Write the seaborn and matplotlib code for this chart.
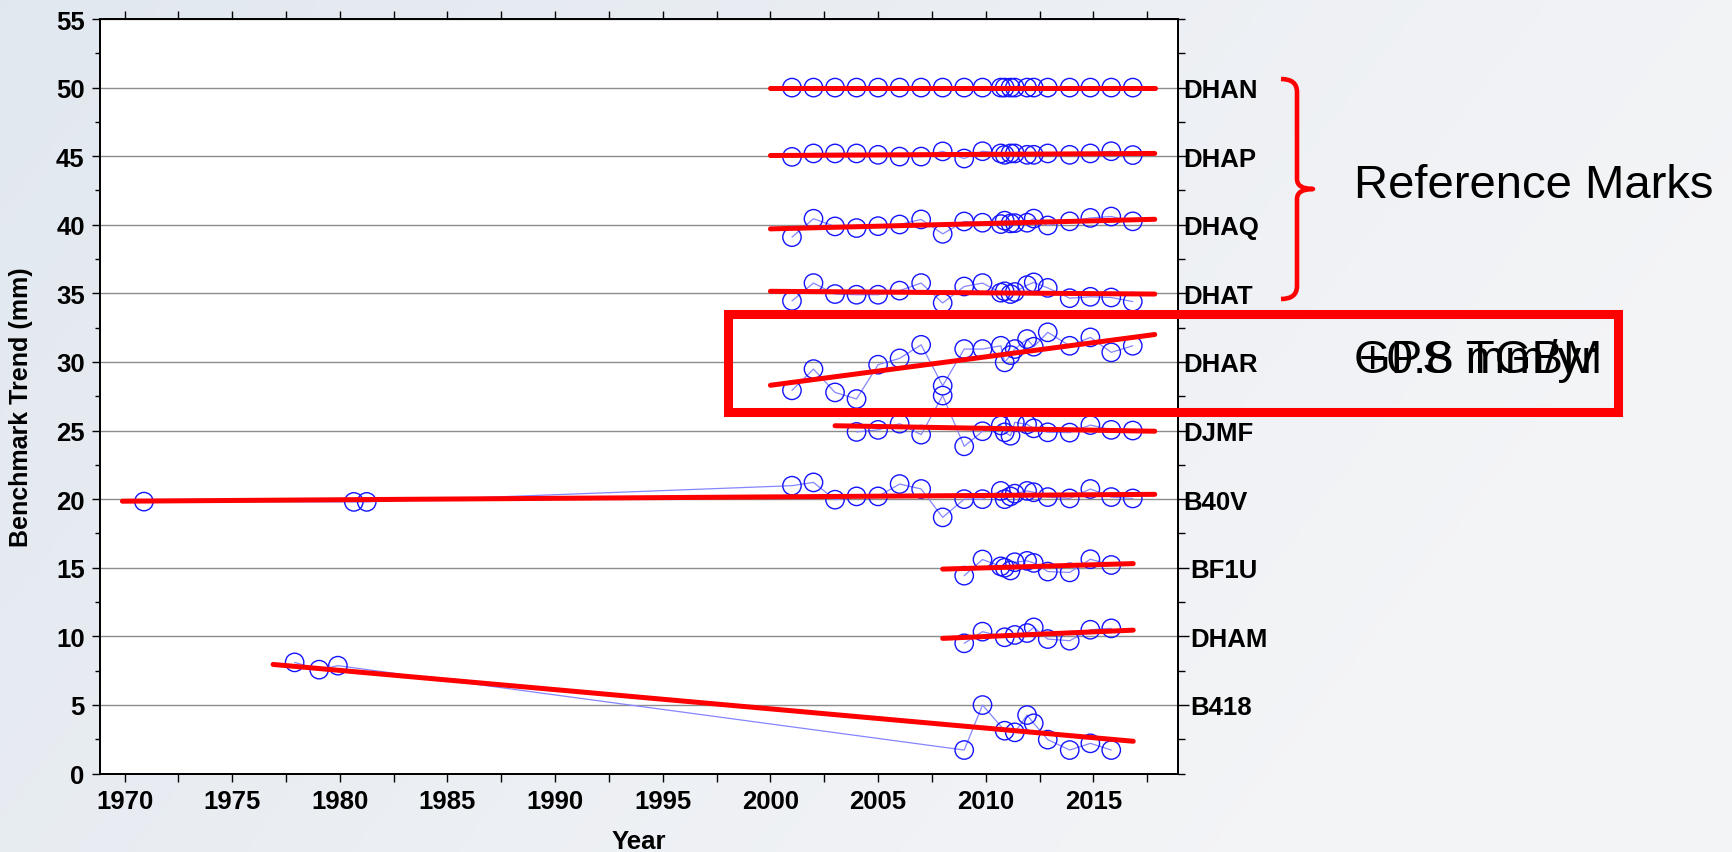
import numpy as np
import pandas as pd
import matplotlib
matplotlib.use("Agg")
import matplotlib.pyplot as plt
import matplotlib.transforms as mtransforms
from matplotlib.patches import Rectangle, PathPatch
from matplotlib.path import Path
from matplotlib.ticker import MultipleLocator
import seaborn as sns

# ---------------------------------------------------------------- data
# survey epochs shared by most benchmarks (decimal years)
epochs = [2001.0, 2002.0, 2003.0, 2004.0, 2005.0, 2006.0, 2007.0, 2008.0, 2009.0,
          2009.85, 2010.7, 2010.88, 2011.15, 2011.35, 2011.92, 2012.23, 2012.88,
          2013.9, 2014.86, 2015.83, 2016.83]

marks = ["DHAN", "DHAP", "DHAQ", "DHAT", "DHAR", "DJMF", "B40V", "BF1U", "DHAM", "B418"]
mark_levels = [50, 45, 40, 35, 30, 25, 20, 15, 10, 5]

dhan_years = epochs
dhan_mm = [50.0, 50.0, 50.0, 50.0, 50.0, 50.0, 50.0, 50.0, 50.0, 50.0, 50.0,
           50.0, 50.0, 50.0, 50.0, 50.0, 50.0, 50.0, 50.0, 50.0, 50.0]

dhap_years = epochs
dhap_mm = [44.95, 45.2, 45.2, 45.2, 45.1, 44.97, 44.97, 45.35, 44.83, 45.36, 45.2,
           45.1, 45.2, 45.2, 45.1, 45.1, 45.2, 45.1, 45.2, 45.36, 45.08]

dhaq_years = epochs
dhaq_mm = [39.1, 40.44, 39.88, 39.76, 39.9, 40.02, 40.39, 39.34, 40.24, 40.15, 40.05,
           40.3, 40.1, 40.12, 40.15, 40.45, 39.95, 40.25, 40.5, 40.6, 40.25]

dhat_years = epochs
dhat_mm = [34.45, 35.75, 34.95, 34.9, 34.9, 35.2, 35.75, 34.3, 35.5, 35.75, 35.05,
           35.15, 34.95, 35.1, 35.6, 35.8, 35.4, 34.65, 34.75, 34.7, 34.4]

dhar_years = epochs
dhar_mm = [27.93, 29.48, 27.78, 27.3, 29.8, 30.26, 31.25, 28.27, 30.94, 30.94, 31.18,
           29.97, 30.5, 30.94, 31.67, 31.11, 32.16, 31.18, 31.79, 30.7, 31.18]

djmf_years = epochs[3:]
djmf_mm = [24.9, 25.05, 25.5, 24.7, 27.55, 23.85, 24.95, 25.37, 24.87, 24.62, 25.6,
           25.45, 25.16, 24.87, 24.85, 25.4, 25.05, 25.0]

b40v_years = [1970.9, 1980.65, 1981.25] + epochs
b40v_mm = [19.82, 19.8, 19.8,
           20.98, 21.22, 19.96, 20.2, 20.2, 21.1, 20.74, 18.67, 20.0, 20.0, 20.6,
           20.0, 20.2, 20.4, 20.6, 20.5, 20.15, 20.05, 20.74, 20.15, 20.05]

bf1u_years = epochs[8:20]
bf1u_mm = [14.42, 15.6, 15.1, 15.0, 14.8, 15.4, 15.5, 15.35, 14.72, 14.66, 15.62, 15.2]

dham_years = [2009.0, 2009.85, 2010.88, 2011.35, 2011.92, 2012.23, 2012.88,
              2013.9, 2014.86, 2015.83]
dham_mm = [9.49, 10.34, 9.93, 10.1, 10.24, 10.65, 9.8, 9.68, 10.48, 10.58]

b418_years = [1977.9, 1979.04, 1979.91] + dham_years
b418_mm = [8.1, 7.57, 7.86,
           1.71, 4.99, 3.12, 3.0, 4.26, 3.66, 2.47, 1.71, 2.2, 1.71]

# fitted trend segments per benchmark
trend_start_year = [2000.0, 2000.0, 2000.0, 2000.0, 2000.0, 2003.0, 1969.9, 2008.0, 2008.0, 1976.9]
trend_end_year = [2017.85, 2017.85, 2017.85, 2017.85, 2017.85, 2017.85, 2017.85, 2016.85, 2016.85, 2016.85]
trend_start_mm = [50.0, 45.05, 39.7, 35.15, 28.3, 25.35, 19.85, 14.9, 9.85, 7.95]
trend_end_mm = [50.0, 45.2, 40.4, 34.95, 32.0, 24.95, 20.35, 15.3, 10.45, 2.35]

years_list = [dhan_years, dhap_years, dhaq_years, dhat_years, dhar_years,
              djmf_years, b40v_years, bf1u_years, dham_years, b418_years]
mm_list = [dhan_mm, dhap_mm, dhaq_mm, dhat_mm, dhar_mm,
           djmf_mm, b40v_mm, bf1u_mm, dham_mm, b418_mm]

rows = []
for name, yrs, vals in zip(marks, years_list, mm_list):
    for yr, v in zip(yrs, vals):
        rows.append((name, yr, v))
obs = pd.DataFrame(rows, columns=["mark", "year", "mm"])

trend_rows = []
for name, x0, x1, y0, y1 in zip(marks, trend_start_year, trend_end_year,
                                trend_start_mm, trend_end_mm):
    trend_rows.append((name, x0, y0))
    trend_rows.append((name, x1, y1))
trend = pd.DataFrame(trend_rows, columns=["mark", "year", "mm"])

# ---------------------------------------------------------------- style
sns.set_theme(style="white")
plt.rcParams["font.family"] = ["Liberation Sans", "DejaVu Sans"]
plt.rcParams["axes.edgecolor"] = "black"
plt.rcParams["axes.linewidth"] = 1.3
plt.rcParams["text.color"] = "black"
plt.rcParams["axes.labelcolor"] = "black"
plt.rcParams["xtick.color"] = "black"
plt.rcParams["ytick.color"] = "black"
plt.rcParams["xtick.labelcolor"] = "black"
plt.rcParams["ytick.labelcolor"] = "black"

W_PX, H_PX = 1732, 853
fig = plt.figure(figsize=(W_PX / 100, H_PX / 100), dpi=100)

# soft backdrop behind the chart
bg = fig.add_axes([0, 0, 1, 1], zorder=-5)
yy, xx = np.mgrid[0:1:200j, 0:1:400j]
c_left = np.array([0.875, 0.903, 0.935])
c_right = np.array([0.955, 0.958, 0.966])
w = np.clip(0.12 + 0.8 * xx + 0.3 * yy, 0, 1)[..., None]
bg.imshow(c_left * (1 - w) + c_right * w, extent=[0, 1, 0, 1],
          aspect="auto", origin="upper")
bg.axis("off")

ax = fig.add_axes([100 / W_PX, 1 - 774.5 / H_PX, 1078 / W_PX, 754.5 / H_PX], zorder=1)
ax.set_facecolor("white")
ax.set_axisbelow(True)

sns.lineplot(data=obs, x="year", y="mm", units="mark", estimator=None, sort=False,
             color="#8585ff", lw=0.9, ax=ax, zorder=2, legend=False)
sns.scatterplot(data=obs, x="year", y="mm", marker="o", s=175, facecolors="none",
                edgecolor="#1414ff", linewidth=1.0, ax=ax, zorder=3, legend=False)
sns.lineplot(data=trend, x="year", y="mm", units="mark", estimator=None, sort=False,
             color="#ff0000", lw=3.6, ax=ax, zorder=4, legend=False)

ax.set_xlim(1968.86, 2018.93)
ax.set_ylim(0, 55)
ax.xaxis.set_major_locator(MultipleLocator(5))
ax.xaxis.set_minor_locator(MultipleLocator(2.5))
ax.yaxis.set_major_locator(MultipleLocator(5))
ax.yaxis.set_minor_locator(MultipleLocator(2.5))
ax.grid(axis="y", which="major", color="#8c8c8c", lw=1.0)
ax.grid(axis="x", visible=False)

ax.tick_params(axis="x", which="both", direction="out", top=True, bottom=True,
               length=6, width=1, color="black")
ax.tick_params(axis="x", which="major", labelsize=18.5, pad=5, labelcolor="black")
ax.tick_params(axis="y", which="major", direction="out", left=True, right=False,
               length=6, width=1, color="black", labelsize=18.5, pad=5,
               labelcolor="black")
ax.tick_params(axis="y", which="minor", direction="out", left=True, right=False,
               length=3.5, width=1, color="black")
for lab in ax.get_xticklabels() + ax.get_yticklabels():
    lab.set_fontweight("bold")

ax.set_xlabel("Year", fontsize=18.5, fontweight="bold", va="center", color="black")
ax.xaxis.set_label_coords(0.5, -0.0895)
ax.set_ylabel("Benchmark Trend (mm)", fontsize=18, fontweight="bold", va="center",
              color="black")
ax.yaxis.set_label_coords(-0.0733, 0.487)

# benchmark names on the right-hand axis
ax2 = ax.twinx()
ax2.set_ylim(0, 55)
ax2.set_yticks(mark_levels)
ax2.set_yticklabels(marks, fontsize=18.5, fontweight="bold", color="black")
ax2.yaxis.set_minor_locator(MultipleLocator(2.5))
ax2.tick_params(axis="y", which="major", direction="out", length=8, width=1,
                color="black", pad=-4.5, labelcolor="black")
ax2.tick_params(axis="y", which="minor", direction="out", length=5, width=1,
                color="black")
shift = mtransforms.ScaledTranslation(7 / 100, 0, fig.dpi_scale_trans)
for lab in ax2.get_yticklabels():
    if lab.get_text() in ("BF1U", "DHAM", "B418"):
        lab.set_transform(lab.get_transform() + shift)

# annotations drawn in figure pixel space
ov = fig.add_axes([0, 0, 1, 1], zorder=5)
ov.set_xlim(0, W_PX)
ov.set_ylim(H_PX, 0)
ov.axis("off")
ov.patch.set_alpha(0)

ov.add_patch(Rectangle((728, 314.5), 890, 98, fill=False, edgecolor="#ff0000", lw=6.5))
ov.text(1478, 361, "GPS TGBM", fontsize=34, ha="center", va="center", color="black")
ov.text(1478, 361, "+0.8 mm/yr", fontsize=34, ha="center", va="center", color="black")

brace = Path(
    [(1281, 80), (1297, 80), (1297, 93), (1297, 180), (1297, 190), (1313, 190),
     (1297, 190), (1297, 200), (1297, 287), (1297, 300), (1281, 300)],
    [Path.MOVETO, Path.CURVE3, Path.CURVE3, Path.LINETO, Path.CURVE3, Path.CURVE3,
     Path.CURVE3, Path.CURVE3, Path.LINETO, Path.CURVE3, Path.CURVE3])
ov.add_patch(PathPatch(brace, fill=False, edgecolor="#ff0000", lw=3.3,
                       capstyle="butt", joinstyle="round"))
ov.text(1534, 186, "Reference Marks", fontsize=34, ha="center", va="center", color="black")

fig.savefig("out.png", dpi=100)
